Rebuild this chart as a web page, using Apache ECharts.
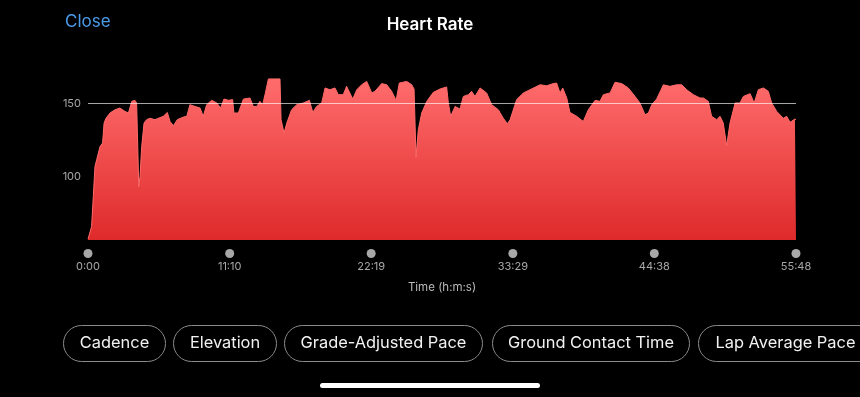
<!DOCTYPE html>
<html>
<head>
<meta charset="utf-8">
<script src="https://cdn.jsdelivr.net/npm/echarts@6/dist/echarts.min.js"></script>
<style>
html,body{margin:0;padding:0;background:#000;}
#c{width:860px;height:397px;}
</style>
</head>
<body>
<div id="c"></div>
<script>
// ---- data ----
const seconds = [0,17,25,33,41,57,69,76,85,104,128,151,175,191,207,222,230,240,246,254,265,277,293,317,333,356,375,388,404,422,451,467,482,506,530,545,561,585,609,627,643,664,684,690,711,735,766,782,798,813,826,837,853,876,908,913,927,940,963,987,1018,1047,1063,1081,1105,1121,1144,1168,1184,1207,1223,1252,1271,1294,1318,1342,1357,1389,1413,1436,1457,1472,1507,1531,1542,1551,1562,1578,1602,1633,1665,1696,1704,1715,1736,1759,1775,1799,1814,1830,1854,1885,1909,1940,1964,1983,1996,2027,2059,2090,2138,2169,2200,2216,2232,2245,2264,2279,2311,2342,2366,2398,2421,2437,2469,2492,2524,2555,2587,2610,2634,2650,2666,2689,2721,2752,2784,2808,2831,2863,2894,2910,2933,2949,2973,2989,3004,3020,3036,3060,3083,3099,3131,3150,3170,3194,3217,3233,3257,3288,3304,3320,3343,3348];
const heartRate = [57,65.6,86.2,106.9,111.5,120.6,123,136.7,140,143.6,145.9,147,144.7,143.6,151.6,152.3,150.5,93.1,100,120.6,136.7,139,140,139,140,141.3,144,137.8,134.9,139,140.8,141.3,149.3,148.1,147,141.3,149.3,152.3,150.5,147,153.2,152.3,152.8,143.6,143.6,153.2,153.9,148.1,148.1,151.6,149.3,156.2,167,167,167,139,129.8,136.7,145.9,149.3,150.5,152.3,144,148.1,150.5,160.8,159.6,160.8,156.2,156.2,161.9,153.2,159.6,163,165.3,157.4,158.5,163.8,163,158.5,152.3,164.2,165.3,163,160,113.3,132.1,143.6,151.6,157.8,160.1,161.5,150.5,141.3,148.1,146.3,155,156.2,158.5,155,160.8,157.4,149.3,145.9,140,136.2,139,152.8,157.4,159.6,163,162.3,163.8,164.2,157.4,160.8,153.9,144,141.3,137.8,145.9,152.3,151.6,156.2,157.4,164.7,163.8,160.8,155,150.5,142.4,143.6,149.3,153.2,163,161.9,163,163,159.6,156.2,153.9,153.9,151.6,141.3,139,141.3,136.7,121.1,136.7,150.5,150.5,155,156.9,150.5,159.6,160.8,158.5,150.5,144.7,140,141.3,137.2,139.5,139];
const timeTickLabels = ['0:00','11:10','22:19','33:29','44:38','55:48'];
const hrTickValues = [100,150];
const referenceLine = 150;
const metricButtons = ['Cadence','Elevation','Grade-Adjusted Pace','Ground Contact Time','Lap Average Pace'];

// ---- build ----
const toSec = s => { const p = s.split(':').map(Number); return p[0]*60 + p[1]; };
const tickSecs = timeTickLabels.map(toSec);
const points = seconds.map((t,i) => [t, heartRate[i]]);

const FONT = 'Inter, "Noto Sans", sans-serif';
const chart = echarts.init(document.getElementById('c'), null, {renderer:'canvas'});

// pill buttons
const pillX = [[63,165],[173,276],[284,482],[492,689],[698,880]];
const graphics = [];
metricButtons.forEach((label, i) => {
  const [x0, x1] = pillX[i];
  const w = x1 - x0;
  graphics.push({
    type:'group', left:x0, top:325,
    children:[
      {type:'rect', shape:{x:0,y:0,width:w,height:36,r:18},
       style:{fill:'transparent',stroke:'#8a8a8a',lineWidth:1}},
      {type:'text', x: i === metricButtons.length-1 ? 17 : w/2, y:18,
       style:{text:label, fill:'#f2f2f2', font:'400 16.4px '+FONT,
              align: i === metricButtons.length-1 ? 'left' : 'center', verticalAlign:'middle'}}
    ]
  });
});
graphics.push({type:'text', left:65, top:13,
  style:{text:'Close', fill:'#4a9cec', font:'400 17px '+FONT}});
graphics.push({type:'rect', left:320, top:383,
  shape:{width:220,height:5,r:2.5}, style:{fill:'#ffffff'}});

chart.setOption({
  backgroundColor:'#000',
  animation:false,
  title:{text:'Heart Rate', left:'center', top:11,
    textStyle:{color:'#ffffff', fontSize:17, fontWeight:600, fontFamily:FONT}},
  grid:{left:88, right:64, top:60, bottom:157, containLabel:false},
  xAxis:{
    type:'value', min:0, max:tickSecs[tickSecs.length-1],
    name:'Time (h:m:s)', nameLocation:'middle', nameGap:42,
    nameTextStyle:{color:'#bbbbbb', fontSize:11.5, fontFamily:FONT},
    axisLine:{show:false}, axisTick:{show:false}, splitLine:{show:false},
    axisLabel:{
      customValues:tickSecs, margin:9,
      formatter: v => { const i = tickSecs.indexOf(v); return '{d| }\n{t|'+(i>=0?timeTickLabels[i]:'')+'}'; },
      rich:{
        d:{width:9,height:9,borderRadius:4.5,backgroundColor:'#a8a8a8',lineHeight:9,fontSize:1},
        t:{color:'#a8a8a8',fontSize:11,lineHeight:18,fontFamily:FONT}
      }
    }
  },
  yAxis:{
    type:'value', min:56.4, max:180,
    axisLine:{show:false}, axisTick:{show:false}, splitLine:{show:false},
    axisLabel:{customValues:hrTickValues, color:'#a8a8a8', fontSize:11, margin:7, fontFamily:FONT}
  },
  series:[{
    type:'line', data:points, symbol:'none', silent:true,
    lineStyle:{width:1, color:'#ff6a6a'},
    areaStyle:{opacity:1, color:new echarts.graphic.LinearGradient(0,0,0,1,[
      {offset:0,color:'#ff6c6c'},{offset:1,color:'#df2a2b'}])},
    markLine:{silent:true, symbol:'none', label:{show:false},
      lineStyle:{color:'rgba(255,255,255,0.65)', width:1, type:'solid'},
      data:[{yAxis:referenceLine}]}
  }],
  graphic:graphics
});
</script>
</body>
</html>
